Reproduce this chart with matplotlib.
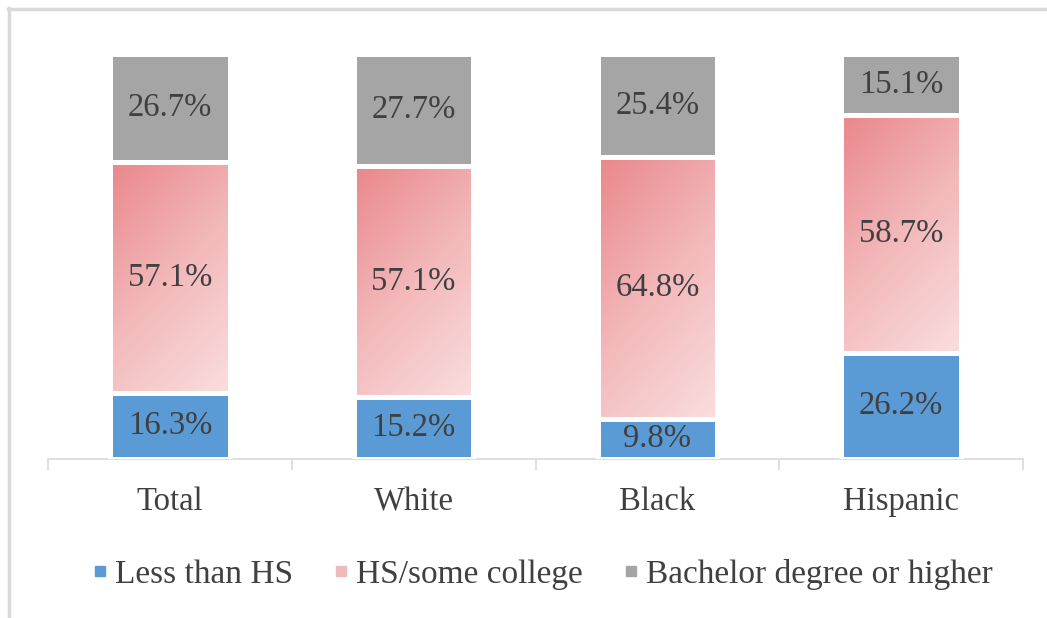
import numpy as np
import matplotlib
matplotlib.use("Agg")
import matplotlib.pyplot as plt
from matplotlib.colors import LinearSegmentedColormap
from matplotlib.lines import Line2D

plt.rcParams["font.family"] = ["Liberation Serif", "DejaVu Serif"]

groups = ["Total", "White", "Black", "Hispanic"]
less_hs = [16.3, 15.2, 9.8, 26.2]
hs_some = [57.1, 57.1, 64.8, 58.7]
bachelor = [26.7, 27.7, 25.4, 15.1]
series_names = ["Less than HS", "HS/some college", "Bachelor degree or higher"]

BLUE = "#5B9BD5"
GRAY = "#A5A5A5"
PINK_LEGEND = "#F0B9BB"
TXT = "#404040"
pink_cmap = LinearSegmentedColormap.from_list("pinkgrad", ["#E9878B", "#F3B8BA", "#F9DEDE"])

W, H = 10.47, 6.18
fig = plt.figure(figsize=(W, H), dpi=100)
ax = fig.add_axes([48 / 1047, 1 - 459 / 618, (1023 - 48) / 1047, (459 - 54) / 618])

x = np.arange(len(groups))
bw = 0.49
gap_lw = 3.6

# bottom segment
ax.bar(x, less_hs, bw, color=BLUE, edgecolor="white", linewidth=gap_lw, zorder=3)

# middle segment: gradient image clipped to each bar
mid = ax.bar(x, hs_some, bw, bottom=less_hs, facecolor="none", edgecolor="white",
             linewidth=gap_lw, zorder=3)
u, v = np.meshgrid(np.linspace(0, 1, 60), np.linspace(0, 1, 120))
grad = 0.35 * u + 0.65 * v
for rect in mid.patches:
    x0, y0 = rect.get_x(), rect.get_y()
    im = ax.imshow(grad, cmap=pink_cmap, vmin=0, vmax=1, origin="upper",
                   extent=[x0, x0 + rect.get_width(), y0, y0 + rect.get_height()],
                   aspect="auto", zorder=2, interpolation="bilinear")
    im.set_clip_path(rect)

# top segment
top_bottom = [a + b for a, b in zip(less_hs, hs_some)]
ax.bar(x, bachelor, bw, bottom=top_bottom, color=GRAY, edgecolor="white",
       linewidth=gap_lw, zorder=3)

# value labels centred in each segment
for i in range(len(groups)):
    for val, base in ((less_hs[i], 0), (hs_some[i], less_hs[i]), (bachelor[i], top_bottom[i])):
        ax.text(x[i], base + val / 2, f"{val:.1f}%", ha="center", va="center",
                fontsize=23.5, color=TXT, zorder=5)

ax.set_xlim(-0.5, len(groups) - 0.5)
ax.set_ylim(0, 100)
ax.set_yticks([])
for side in ("left", "right", "top"):
    ax.spines[side].set_visible(False)
ax.spines["bottom"].set_color("#D9D9D9")
ax.spines["bottom"].set_linewidth(1.2)
ax.set_xticks(x)
ax.set_xticklabels(groups, fontsize=23.5, color=TXT)
ax.tick_params(axis="x", which="major", length=0, pad=20)
ax.set_xticks(np.arange(-0.5, len(groups)), minor=True)
ax.tick_params(axis="x", which="minor", length=8, width=1.2, color="#D9D9D9", direction="out")

handles = [Line2D([], [], marker="s", ls="", color=c, markersize=7)
           for c in (BLUE, PINK_LEGEND, GRAY)]
fig.legend(handles, series_names, loc="center", bbox_to_anchor=(0.518, 0.071),
           ncol=3, frameon=False, fontsize=24, handlelength=0.5, handletextpad=0.2,
           columnspacing=1.2, labelcolor=TXT)

# chart frame (top and left edges)
fig.add_artist(Line2D([8 / 1047, 1], [1 - 9 / 618] * 2, color="#D9D9D9", lw=2.5,
                      transform=fig.transFigure))
fig.add_artist(Line2D([9 / 1047] * 2, [0, 1 - 8 / 618], color="#D9D9D9", lw=2.5,
                      transform=fig.transFigure))

fig.savefig("out.png", dpi=100)
